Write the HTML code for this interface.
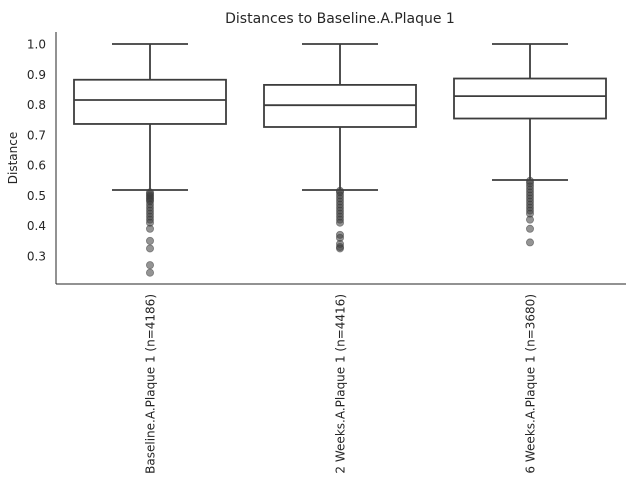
<!DOCTYPE html>
<html><head><meta charset="utf-8"><style>
body{margin:0;background:#fff;}
svg{display:block;font-family:"DejaVu Sans","Liberation Sans",sans-serif;}
</style></head><body>
<svg id="chart" width="640" height="480" viewBox="0 0 640 480" xmlns="http://www.w3.org/2000/svg">
<rect width="640" height="480" fill="#fff"/>
<text x="340" y="23" text-anchor="middle" font-size="14" fill="#262626">Distances to Baseline.A.Plaque 1</text>
<text transform="translate(17,158) rotate(-90)" text-anchor="middle" font-size="12" fill="#262626">Distance</text>
<g id="axes"></g>
<g id="marks"></g>
</svg>
<script>
const categories = ["Baseline.A.Plaque 1 (n=4186)", "2 Weeks.A.Plaque 1 (n=4416)", "6 Weeks.A.Plaque 1 (n=3680)"];
const whiskerHigh = [1.0, 1.0, 1.0];
const q3 = [0.882, 0.865, 0.886];
const medians = [0.815, 0.798, 0.828];
const q1 = [0.736, 0.726, 0.754];
const whiskerLow = [0.518, 0.518, 0.551];
const outliers = [
  [0.51,0.505,0.50,0.495,0.49,0.485,0.48,0.47,0.46,0.45,0.44,0.43,0.42,0.41,0.39,0.35,0.325,0.27,0.245],
  [0.515,0.51,0.50,0.49,0.48,0.47,0.46,0.45,0.44,0.43,0.42,0.41,0.37,0.36,0.34,0.33,0.325],
  [0.548,0.54,0.53,0.52,0.51,0.50,0.49,0.48,0.47,0.46,0.45,0.44,0.42,0.39,0.345]
];
const yTicks = [0.3,0.4,0.5,0.6,0.7,0.8,0.9,1.0];

const NS="http://www.w3.org/2000/svg";
const plotL=56, plotR=626, plotT=32, plotB=284;
function y(v){return 44+(1.0-v)*302.9;}
const band=(plotR-plotL)/categories.length;
function xc(i){return plotL+band*(i+0.5)-1;}
const boxW=152;
function mk(tag,attrs,parent){const e=document.createElementNS(NS,tag);for(const k in attrs)e.setAttribute(k,attrs[k]);parent.appendChild(e);return e;}
const axesG=document.getElementById('axes'), marksG=document.getElementById('marks');

const ya=mk('line',{x1:plotL,y1:plotT,x2:plotL,y2:plotB,stroke:'#262626','stroke-width':1},axesG);


const xa=mk('line',{x1:plotL,y1:plotB,x2:plotR,y2:plotB,stroke:'#262626','stroke-width':1},axesG);



yTicks.forEach(t=>{
  const tx=mk('text',{x:plotL-10,y:y(t)+4.5,'text-anchor':'end','font-size':12,fill:'#262626'},axesG);
  tx.textContent=t.toFixed(1);
  
  
});

categories.forEach((c,i)=>{
  const cx=xc(i);
  const g=mk('g',{},marksG);
  
  
  const st={stroke:'#3d3d3d','stroke-width':1.8,fill:'none'};
  outliers[i].forEach(v=>{
    const d=mk('circle',{cx:cx,cy:y(v),r:3.6,fill:'#3d3d3d','fill-opacity':0.55,stroke:'#3d3d3d','stroke-opacity':0.55,'stroke-width':0.8},g);
    
    
  });
  mk('line',Object.assign({x1:cx,y1:y(whiskerHigh[i]),x2:cx,y2:y(q3[i])},st),g);
  mk('line',Object.assign({x1:cx,y1:y(q1[i]),x2:cx,y2:y(whiskerLow[i])},st),g);
  mk('line',Object.assign({x1:cx-38,y1:y(whiskerHigh[i]),x2:cx+38,y2:y(whiskerHigh[i])},st),g);
  mk('line',Object.assign({x1:cx-38,y1:y(whiskerLow[i]),x2:cx+38,y2:y(whiskerLow[i])},st),g);
  const r=mk('rect',Object.assign({x:cx-boxW/2,y:y(q3[i]),width:boxW,height:y(q1[i])-y(q3[i])},st),g);
  r.setAttribute('fill','#ffffff');
  mk('line',Object.assign({x1:cx-boxW/2,y1:y(medians[i]),x2:cx+boxW/2,y2:y(medians[i])},st),g);
  const lb=mk('text',{transform:'translate('+(cx+4.5)+','+(plotB+10)+') rotate(-90)','text-anchor':'end','font-size':12,fill:'#262626'},axesG);
  lb.textContent=c;
  
  
});
</script>
</body></html>
